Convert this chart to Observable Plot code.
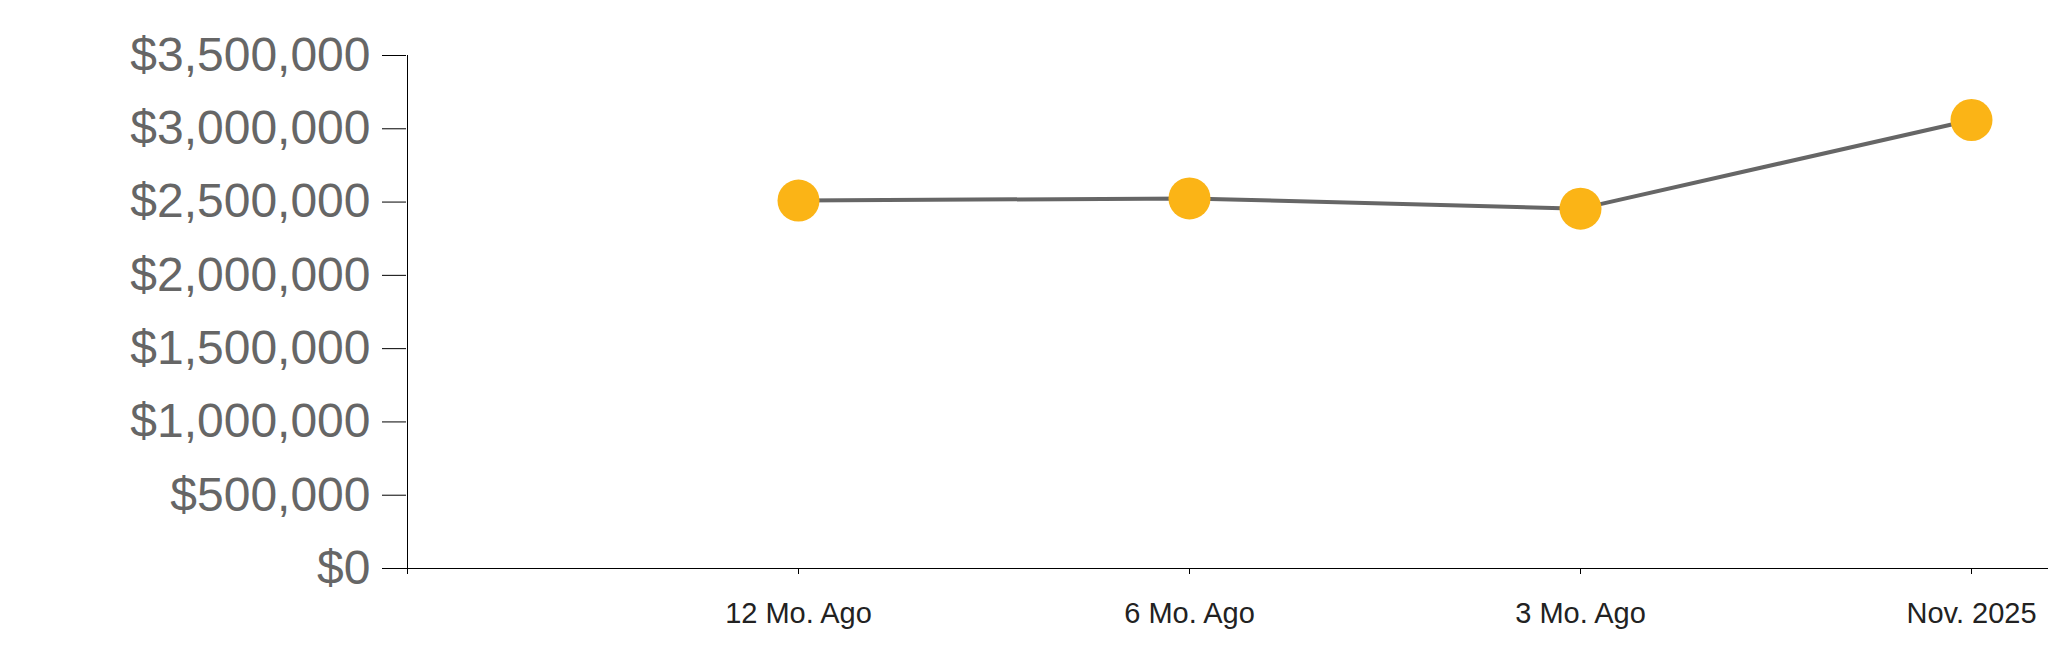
<!DOCTYPE html>
<html>
<head>
<meta charset="utf-8">
<script src="https://cdn.jsdelivr.net/npm/d3@7"></script>
<script src="https://cdn.jsdelivr.net/npm/@observablehq/plot@0.6"></script>
<style>
  html, body { margin: 0; padding: 0; background: #fff; }
  #chart svg { display: block; }
</style>
</head>
<body>
<div id="chart"></div>
<script>
// Categories (first blank slot sits at the y-axis)
const periods = ["12 Mo. Ago", "6 Mo. Ago", "3 Mo. Ago", "Nov. 2025"];
const values = [2510000, 2525000, 2455000, 3060000];
const yTicks = [0, 500000, 1000000, 1500000, 2000000, 2500000, 3000000, 3500000];
const xDomain = ["", ...periods];

const data = periods.map((p, i) => ({period: p, value: values[i]}));

const chart = Plot.plot({
  width: 2048,
  height: 663,
  marginTop: 55,
  marginBottom: 95,
  marginLeft: 406,
  marginRight: 0,
  style: {fontFamily: "'Liberation Sans', Arial, sans-serif", color: "#000", background: "#fff"},
  x: {type: "point", domain: xDomain, range: [406, 1971.5], padding: 0},
  y: {domain: [0, 3500000]},
  marks: [
    Plot.ruleY([0], {stroke: "#000", strokeWidth: 1}),
    Plot.ruleX([""], {stroke: "#000", strokeWidth: 1}),
    Plot.axisY({
      ticks: yTicks,
      tickFormat: d3.format("$,"),
      tickSize: 24,
      tickPadding: 12,
      fontSize: 48,
      fill: "#666",
      stroke: "#000",
      label: null
    }),
    Plot.axisX({
      ticks: xDomain,
      tickSize: 6,
      tickPadding: 28,
      fontSize: 29,
      fill: "#222",
      stroke: "#000",
      label: null
    }),
    Plot.line(data, {x: "period", y: "value", stroke: "#666", strokeWidth: 4}),
    Plot.dot(data, {x: "period", y: "value", r: 21, fill: "#fbb416", stroke: "none"})
  ]
});

document.getElementById("chart").appendChild(chart);
</script>
</body>
</html>
